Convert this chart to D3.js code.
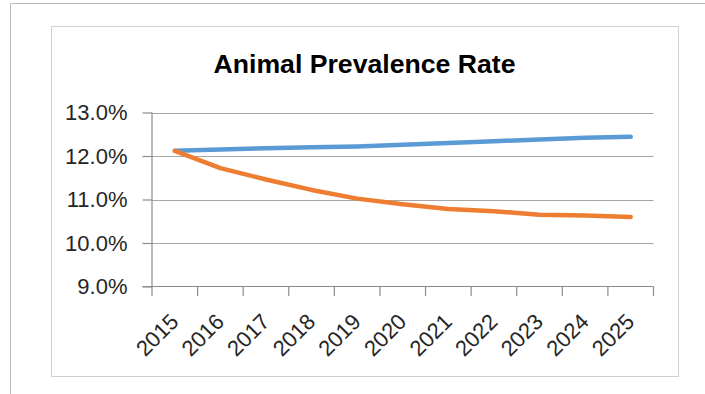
<!DOCTYPE html>
<html><head><meta charset="utf-8">
<script src="https://cdn.jsdelivr.net/npm/d3@7"></script>
<style>html,body{margin:0;padding:0;background:#fff;overflow:hidden}</style>
</head><body>
<svg id="c" width="705" height="394"></svg>
<script>
const title = "Animal Prevalence Rate";
const years = ["2015","2016","2017","2018","2019","2020","2021","2022","2023","2024","2025"];
const seriesA = [12.12, 12.15, 12.18, 12.20, 12.22, 12.26, 12.30, 12.34, 12.38, 12.42, 12.44];
const seriesB = [12.12, 11.72, 11.46, 11.22, 11.02, 10.89, 10.78, 10.73, 10.65, 10.63, 10.60];
const yTicks = [9, 10, 11, 12, 13];
const colors = ["#5B9BD5", "#ED7D31"];

const svg = d3.select("#c");
const font = "'Liberation Sans', Arial, sans-serif";

// outer frame
svg.append("path").attr("d","M10.5,394 V3.5 H705").attr("fill","none").attr("stroke","#b9b9b9").attr("stroke-width",1);
// chart area frame
svg.append("rect").attr("x",51.5).attr("y",26.5).attr("width",627).attr("height",350)
  .attr("fill","#fff").attr("stroke","#d0d0d0").attr("stroke-width",1);

const L = 152, R = 653.5, T = 112.5, B = 286.5;
const xb = d3.scaleBand().domain(years).range([L, R]).padding(0);
const y = d3.scaleLinear().domain([9, 13]).range([B, T]);
const xc = d => xb(d) + xb.bandwidth()/2;

// title
svg.append("text").attr("x", 364.5).attr("y", 73).attr("text-anchor","middle")
  .attr("font-family", font).attr("font-weight","bold").attr("font-size", 26)
  .attr("textLength", 302).attr("lengthAdjust","spacingAndGlyphs")
  .attr("fill","#000").text(title);

// gridlines
svg.append("g").selectAll("line").data(yTicks.filter(v=>v!==9)).join("line")
  .attr("x1", L).attr("x2", R).attr("y1", d=>Math.round(y(d))+0.5).attr("y2", d=>Math.round(y(d))+0.5)
  .attr("stroke","#a6a6a6").attr("stroke-width",1.2);

// y axis
const yAxis = svg.append("g").attr("transform",`translate(${L},0)`)
  .call(d3.axisLeft(y).tickValues(yTicks).tickSize(9.5).tickSizeOuter(0).tickPadding(15)
    .tickFormat(d => d3.format(".1f")(d) + "%"));
yAxis.selectAll("path,line").attr("stroke","#8c8c8c").attr("stroke-width",1.2);
yAxis.selectAll("text").attr("font-family", font).attr("font-size", 22).attr("fill","#262626").attr("dy","0.32em");
yAxis.select(".domain").remove();
svg.append("line").attr("x1",L).attr("x2",L).attr("y1",T).attr("y2",B+9.5).attr("stroke","#8c8c8c").attr("stroke-width",1.2);

// x axis line and ticks at band boundaries
svg.append("line").attr("x1",L-9.5).attr("x2",R).attr("y1",B).attr("y2",B).attr("stroke","#8c8c8c").attr("stroke-width",1.2);
const bounds = years.map(d => xb(d)).concat([R]);
svg.append("g").selectAll("line").data(bounds.slice(1)).join("line")
  .attr("x1", d=>d).attr("x2", d=>d).attr("y1", B).attr("y2", B+9.5)
  .attr("stroke","#8c8c8c").attr("stroke-width",1.2);

// x labels
svg.append("g").selectAll("text").data(years).join("text")
  .attr("transform", d => `translate(${xc(d)+5},323) rotate(-45)`)
  .attr("text-anchor","end").attr("font-family", font).attr("font-size", 22).attr("fill","#262626")
  .text(d=>d);

// lines
const line = d3.line().x((v,i)=>xc(years[i])).y(v=>y(v));
[seriesA, seriesB].forEach((s,k) => {
  svg.append("path").datum(s).attr("d", line).attr("fill","none")
    .attr("stroke", colors[k]).attr("stroke-width", 4.5)
    .attr("stroke-linecap","round").attr("stroke-linejoin","round");
});
</script>
</body></html>
